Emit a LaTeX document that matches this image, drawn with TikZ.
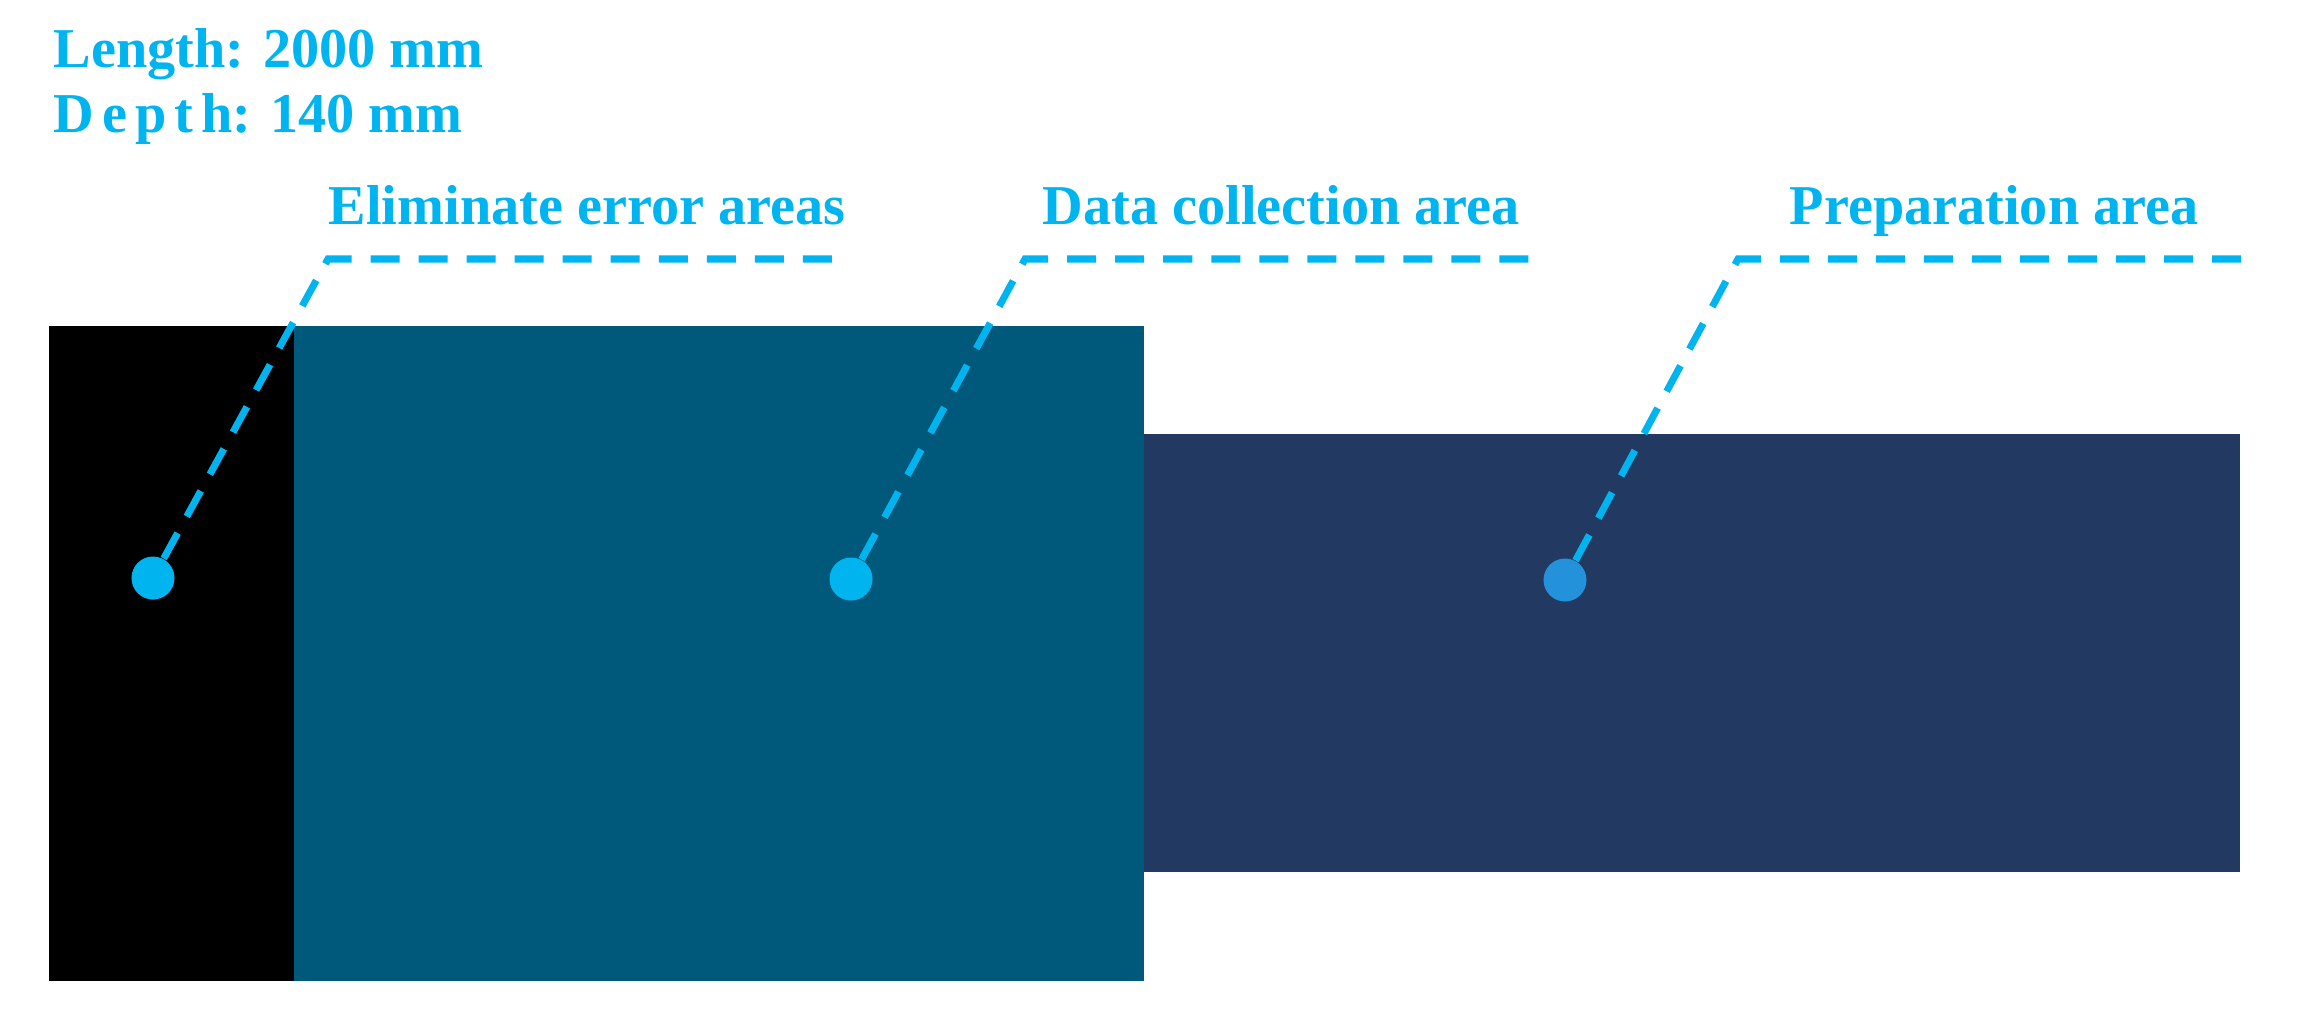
\documentclass[tikz,border=0pt]{standalone}
\usepackage{fontspec}
\setmainfont{Liberation Serif}
\definecolor{lblue}{RGB}{0,180,240}
\definecolor{dblue}{RGB}{36,146,218}
\definecolor{teal}{RGB}{0,88,122}
\definecolor{navy}{RGB}{34,57,97}
\begin{document}
\begin{tikzpicture}[x=0.01cm,y=-0.01cm,
  lab/.style={anchor=base west,inner sep=0pt,text=lblue,font=\fontsize{16}{19}\selectfont\bfseries},
  dotnode/.style={circle,inner sep=0pt,minimum size=0.43cm,fill=lblue},
  leader/.style={draw=lblue,line width=2pt,dash pattern=on 0.29cm off 0.19cm}]
\useasboundingbox (0,0) rectangle (2302,1017);
% areas
\fill[black] (49,326) rectangle (294,981);
\fill[teal] (294,326) rectangle (1144,981);
\fill[navy] (1144,434) rectangle (2240,872);
% dimension text
\node[lab] (len) at (53,67) {Length: 2000 mm};
\node[lab] (dep) at (53,132) {D\kern2.3pt e\kern2.3pt p\kern2.3pt t\kern2.3pt h: 140 mm};
% labels
\node[lab] (l1) at (328,224) {Eliminate error areas};
\node[lab] (l2) at (1042,224) {Data collection area};
\node[lab] (l3) at (1789,224) {Preparation area};
% corners and ends of leaders
\coordinate (c1) at (328,259);
\coordinate (e1) at (836,259);
\coordinate (c2) at (1025,259);
\coordinate (e2) at (1534,259);
\coordinate (c3) at (1738,259);
\coordinate (e3) at (2245,259);
% dots
\node[dotnode] (d1) at (153,578) {};
\node[dotnode] (d2) at (851,579) {};
\node[dotnode,fill=dblue] (d3) at (1565,580) {};
% leaders
\draw[leader] (d1) -- (c1) -- (e1);
\draw[leader] (d2) -- (c2) -- (e2);
\draw[leader] (d3) -- (c3) -- (e3);
\end{tikzpicture}
\end{document}
